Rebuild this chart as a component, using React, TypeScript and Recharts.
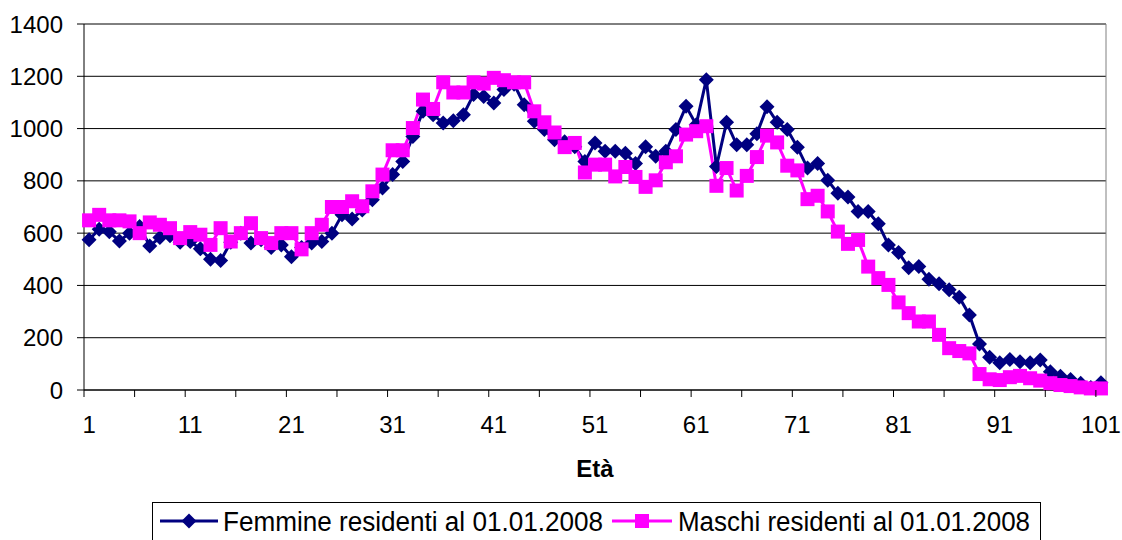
import { LineChart, Line, XAxis, YAxis, CartesianGrid, ReferenceLine } from 'recharts';

// età 1..101
const ages = Array.from({ length: 101 }, (_, i) => i + 1);

const femmine = [
  575, 615, 605, 570, 600, 625, 551, 583, 590, 565,
  568, 540, 500, 495, 565, 600, 562, 575, 545, 555,
  510, 545, 562, 568, 600, 670, 654, 689, 728, 773,
  824, 874, 970, 1066, 1053, 1021, 1030, 1053, 1130, 1123,
  1098, 1149, 1170, 1091, 1028, 996, 957, 950, 930, 874,
  945, 913, 913, 906, 866, 930, 894, 913, 996, 1085,
  1015, 1187, 855, 1024, 938, 938, 980, 1083, 1024, 996,
  929, 849, 866, 802, 753, 738, 683, 683, 636, 555,
  526, 468, 472, 424, 406, 383, 355, 287, 176, 125,
  104, 117, 108, 104, 115, 70, 53, 40, 26, 10,
  28,
];

const maschi = [
  649, 670, 649, 649, 645, 600, 641, 632, 619, 581,
  604, 594, 555, 619, 568, 600, 638, 581, 562, 600,
  600, 538, 600, 632, 700, 700, 722, 703, 760, 824,
  917, 917, 1002, 1111, 1075, 1177, 1138, 1138, 1177, 1172,
  1194, 1185, 1177, 1177, 1066, 1024, 985, 929, 945, 832,
  862, 862, 817, 853, 815, 777, 802, 871, 894, 977,
  990, 1009, 781, 849, 763, 819, 891, 973, 947, 858,
  840, 730, 743, 683, 606, 559, 574, 472, 428, 402,
  335, 294, 262, 262, 211, 160, 149, 140, 61, 41,
  38, 49, 54, 45, 36, 26, 19, 15, 10, 6,
  6,
];

const xLabels = [1, 11, 21, 31, 41, 51, 61, 71, 81, 91, 101];
const yTicks = [0, 200, 400, 600, 800, 1000, 1200, 1400];

const data = ages.map((age, i) => ({ age, femmine: femmine[i], maschi: maschi[i] }));

// tick marks sit between categories, every 5; labels every 10
const tickMarks = Array.from({ length: 21 }, (_, k) => 0.5 + k * 5);
const xTicks = [...tickMarks, ...xLabels].sort((a, b) => a - b);

const FONT = 'Arial, "Liberation Sans", sans-serif';
const NAVY = '#000080';
const PINK = '#FF00FF';

const XTick = (props: any) => {
  const { x, y, payload } = props;
  const v = payload.value;
  if (Number.isInteger(v)) {
    return (
      <text x={x} y={y + 43} textAnchor="middle" fontSize={24} fontFamily={FONT} fill="#000">
        {v}
      </text>
    );
  }
  return <line x1={x} x2={x} y1={y} y2={y + 7} stroke="#000" strokeWidth={1} />;
};

const Diamond = (props: any) => {
  const { cx, cy, index } = props;
  if (cx == null || cy == null) return <g key={`d-${index}`} />;
  const r = 7.5;
  return (
    <polygon
      key={`d-${index}`}
      points={`${cx},${cy - r} ${cx + r},${cy} ${cx},${cy + r} ${cx - r},${cy}`}
      fill={NAVY}
    />
  );
};

const Square = (props: any) => {
  const { cx, cy, index } = props;
  if (cx == null || cy == null) return <g key={`s-${index}`} />;
  const h = 7;
  return <rect key={`s-${index}`} x={cx - h} y={cy - h} width={h * 2} height={h * 2} fill={PINK} />;
};

const LegendBox = () => (
  <svg width={1122} height={540} style={{ position: 'absolute', left: 0, top: 0, pointerEvents: 'none' }}>
    <rect x={152.5} y={502.5} width={888} height={60} fill="#fff" stroke="#000" strokeWidth={1} />
    <line x1={160} x2={218} y1={521} y2={521} stroke={NAVY} strokeWidth={3} />
    <polygon points="189,513.5 196.5,521 189,528.5 181.5,521" fill={NAVY} />
    <text x={223} y={530.5} fontSize={27} fontFamily={FONT} fill="#000" textLength={380} lengthAdjust="spacingAndGlyphs">
      Femmine residenti al 01.01.2008
    </text>
    <line x1={612} x2={672} y1={521} y2={521} stroke={PINK} strokeWidth={3} />
    <rect x={635} y={514} width={14} height={14} fill={PINK} />
    <text x={678} y={530.5} fontSize={27} fontFamily={FONT} fill="#000" textLength={352} lengthAdjust="spacingAndGlyphs">
      Maschi residenti al 01.01.2008
    </text>
  </svg>
);

export default function App() {
  return (
    <div style={{ position: 'absolute', left: 0, top: 0, width: 1122, height: 540, background: '#fff', overflow: 'hidden', fontFamily: FONT }}>
      <LineChart width={1122} height={540} data={data} margin={{ top: 24, right: 16, left: 0, bottom: 0 }}>
        <CartesianGrid vertical={false} stroke="#000" strokeWidth={1} />
        <XAxis
          dataKey="age"
          type="number"
          domain={[0.5, 101.5]}
          ticks={xTicks}
          interval={0}
          tick={<XTick />}
          tickLine={false}
          tickSize={0}
          tickMargin={0}
          height={150}
          axisLine={{ stroke: '#000', strokeWidth: 1 }}
          label={{ value: 'Età', position: 'insideTop', offset: 70, fontSize: 24, fontWeight: 'bold', fill: '#000', fontFamily: FONT }}
        />
        <YAxis
          width={84}
          domain={[0, 1400]}
          ticks={yTicks}
          interval={0}
          tickSize={7}
          tickMargin={14}
          axisLine={{ stroke: '#000', strokeWidth: 1 }}
          tickLine={{ stroke: '#000', strokeWidth: 1 }}
          tick={{ fontSize: 24, fill: '#000', fontFamily: FONT }}
        />
        <ReferenceLine x={101.5} stroke="#808080" strokeWidth={1} />
        <Line
          type="linear"
          dataKey="femmine"
          stroke={NAVY}
          strokeWidth={3}
          dot={Diamond}
          activeDot={false}
          isAnimationActive={false}
        />
        <Line
          type="linear"
          dataKey="maschi"
          stroke={PINK}
          strokeWidth={3}
          dot={Square}
          activeDot={false}
          isAnimationActive={false}
        />
      </LineChart>
      <LegendBox />
    </div>
  );
}
